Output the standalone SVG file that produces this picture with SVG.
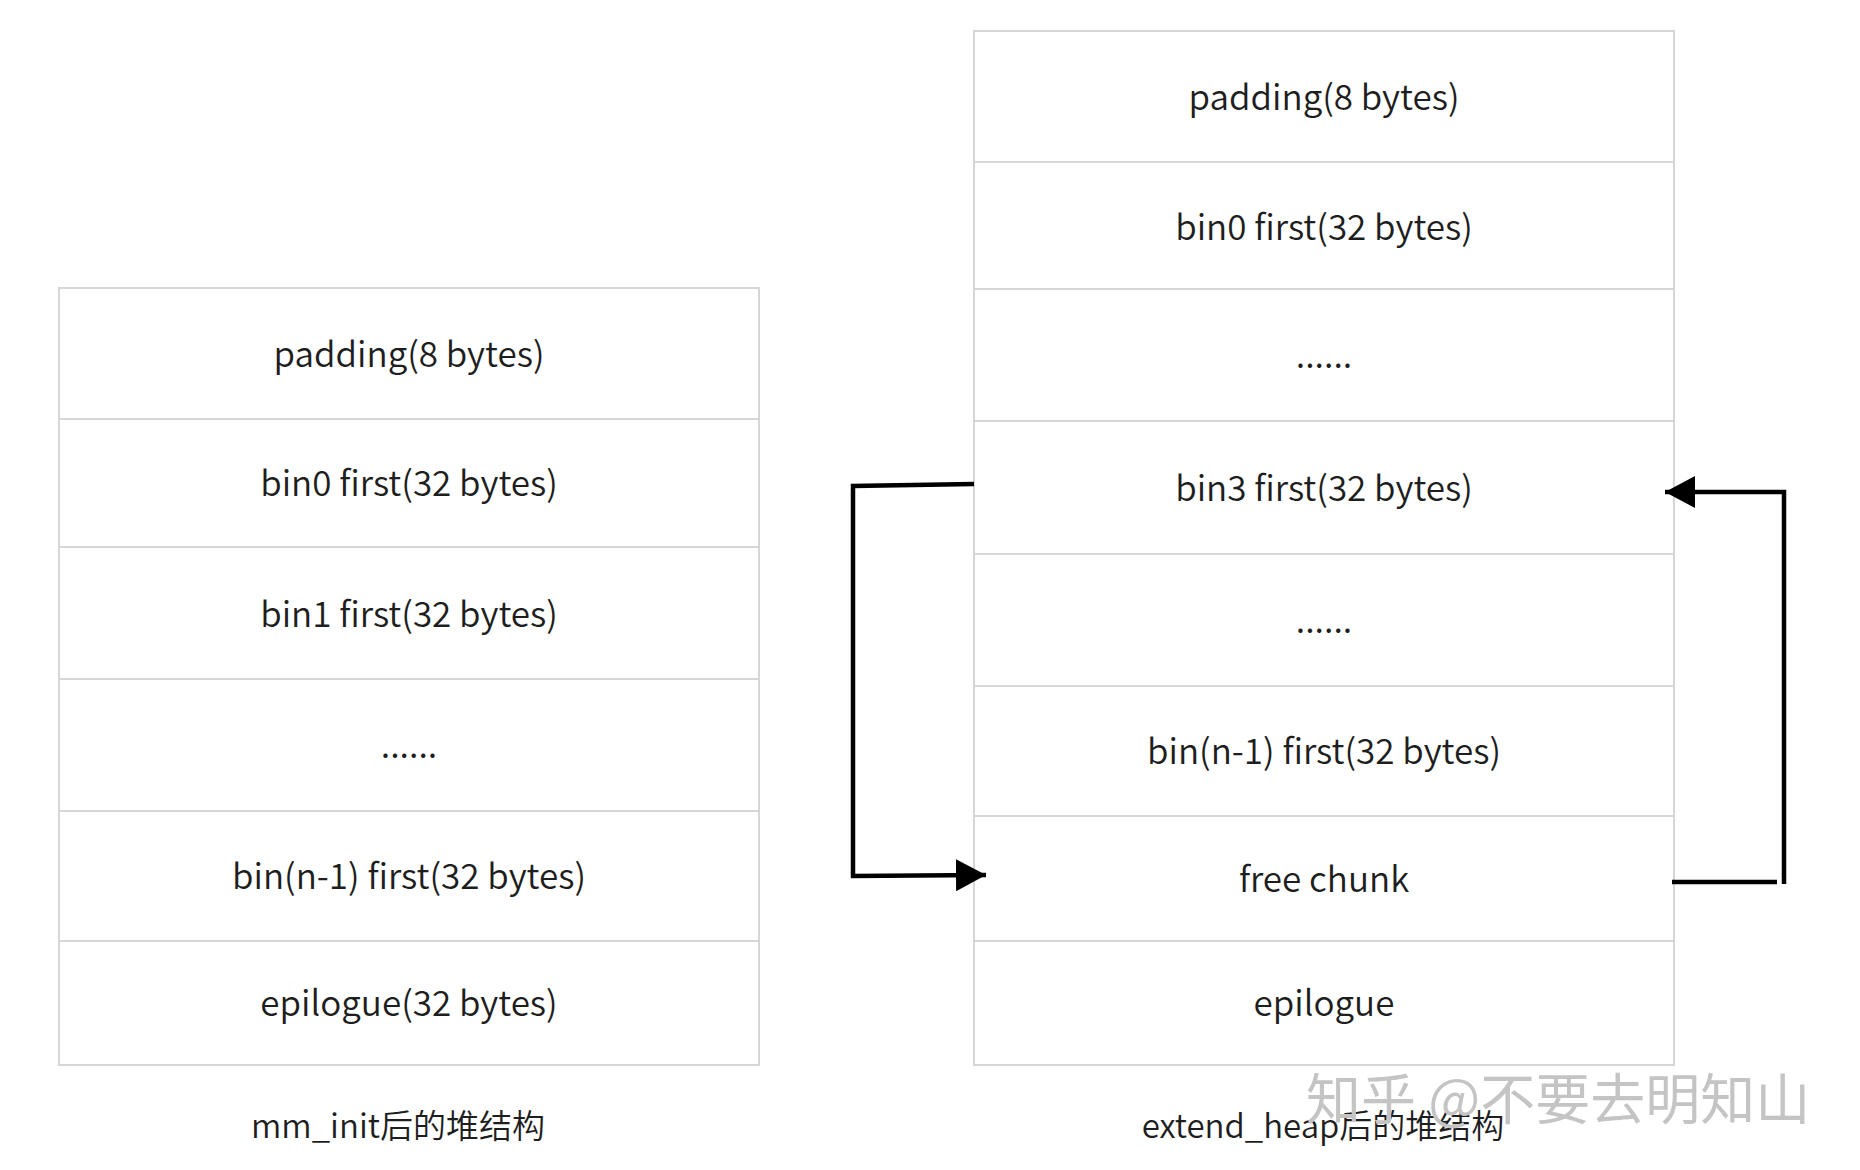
<svg xmlns="http://www.w3.org/2000/svg" width="1860" height="1170" viewBox="0 0 1860 1170">
<style>
.cell{fill:#ffffff;stroke:#d6d6d6;stroke-width:2}
.t{font-family:"Noto Sans CJK SC","Noto Sans",sans-serif;font-size:35px;font-weight:350;fill:#1e1e1e;text-anchor:middle}
.cap{font-family:"Noto Sans CJK SC","Noto Sans",sans-serif;font-size:33px;font-weight:350;fill:#1e1e1e;text-anchor:middle}
.wm{font-family:"Noto Sans CJK SC",sans-serif;font-size:55px;fill:#c4c4c4}
.conn{fill:none;stroke:#000;stroke-width:4.5;stroke-linejoin:miter}
</style>
<defs>
<marker id="ah" markerUnits="userSpaceOnUse" markerWidth="32" markerHeight="34" refX="30" refY="16" orient="auto">
<path d="M0,0 L30,16 L0,32 Z" fill="#000"/>
</marker>
</defs>
<rect width="1860" height="1170" fill="#fff"/>

<g id="left-heap">
<g id="l-padding"><rect class="cell" x="59" y="288" width="700" height="131"/><text class="t" x="409" y="367">padding(8 bytes)</text></g>
<g id="l-bin0"><rect class="cell" x="59" y="419" width="700" height="128"/><text class="t" x="409" y="496">bin0 first(32 bytes)</text></g>
<g id="l-bin1"><rect class="cell" x="59" y="547" width="700" height="132"/><text class="t" x="409" y="627">bin1 first(32 bytes)</text></g>
<g id="l-dots"><rect class="cell" x="59" y="679" width="700" height="132"/><text class="t" x="409" y="758">......</text></g>
<g id="l-binn1"><rect class="cell" x="59" y="811" width="700" height="130"/><text class="t" x="409" y="889">bin(n-1) first(32 bytes)</text></g>
<g id="l-epilogue"><rect class="cell" x="59" y="941" width="700" height="124"/><text class="t" x="409" y="1016">epilogue(32 bytes)</text></g>
<text id="l-caption" class="cap" x="398" y="1138">mm_init后的堆结构</text>
</g>

<g id="right-heap">
<g id="r-padding"><rect class="cell" x="974" y="31" width="700" height="131"/><text class="t" x="1324" y="110">padding(8 bytes)</text></g>
<g id="r-bin0"><rect class="cell" x="974" y="162" width="700" height="127"/><text class="t" x="1324" y="240">bin0 first(32 bytes)</text></g>
<g id="r-dots1"><rect class="cell" x="974" y="289" width="700" height="132"/><text class="t" x="1324" y="368">......</text></g>
<g id="r-bin3"><rect class="cell" x="974" y="421" width="700" height="133"/><text class="t" x="1324" y="501">bin3 first(32 bytes)</text></g>
<g id="r-dots2"><rect class="cell" x="974" y="554" width="700" height="132"/><text class="t" x="1324" y="633">......</text></g>
<g id="r-binn1"><rect class="cell" x="974" y="686" width="700" height="130"/><text class="t" x="1324" y="764">bin(n-1) first(32 bytes)</text></g>
<g id="r-free"><rect class="cell" x="974" y="816" width="700" height="125"/><text class="t" x="1324" y="892">free chunk</text></g>
<g id="r-epilogue"><rect class="cell" x="974" y="941" width="700" height="124"/><text class="t" x="1324" y="1016">epilogue</text></g>
<text id="r-caption" class="cap" x="1323" y="1138">extend_heap后的堆结构</text>
</g>

<g id="connectors">
<path class="conn" d="M974,484 L853,486 L853,876 L986,875" marker-end="url(#ah)"/>
<path class="conn" d="M1672,882 L1777,882"/>
<path class="conn" d="M1784,884 L1784,492 L1665,492" marker-end="url(#ah)"/>
</g>

<text id="watermark" class="wm" x="1306" y="1119">知乎 @不要去明知山</text>
</svg>
